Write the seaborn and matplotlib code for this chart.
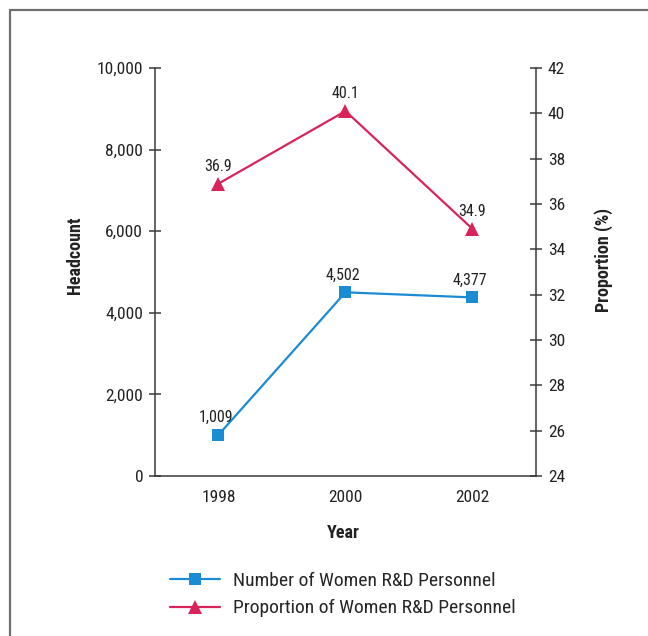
import numpy as np
import pandas as pd
import matplotlib
matplotlib.use("Agg")
import matplotlib.pyplot as plt
from matplotlib import font_manager
from matplotlib.lines import Line2D
from matplotlib.ticker import FuncFormatter, FixedLocator
import seaborn as sns

sns.set_style("white")
installed = {f.name for f in font_manager.fontManager.ttflist}
narrow = [n for n in ("Liberation Sans Narrow", "Roboto Condensed", "Open Sans Condensed",
                      "DejaVu Sans Condensed") if n in installed]
base = narrow[0] if narrow else "Liberation Sans"
plt.rcParams["font.family"] = [base, "DejaVu Sans"]

years = ["1998", "2000", "2002"]
headcount = [1009, 4502, 4377]
proportion = [36.9, 40.1, 34.9]
headcount_labels = ["1,009", "4,502", "4,377"]
proportion_labels = ["36.9", "40.1", "34.9"]

blue = "#1b8bd3"
red = "#d9245a"
axis_col = "#3a3a3a"
text_col = "#222222"

df = pd.DataFrame({"pos": np.arange(len(years)), "year": years,
                   "headcount": headcount, "proportion": proportion})

fig = plt.figure(figsize=(6.48, 6.36), dpi=100)
ax = fig.add_axes([155 / 648, 1 - 476 / 636, (536 - 155) / 648, (476 - 68) / 636])
ax2 = ax.twinx()

sns.lineplot(data=df, x="pos", y="headcount", ax=ax, color=blue, marker="s",
             markersize=8.5, markeredgewidth=0, linewidth=1.6)
sns.lineplot(data=df, x="pos", y="proportion", ax=ax2, color=red, marker="^",
             markersize=10.5, markeredgewidth=0, linewidth=1.6)

ax.set_xlim(-0.5, 2.5)
ax.set_ylim(0, 10000)
ax2.set_ylim(24, 42)
ax.set_yticks(np.arange(0, 10001, 2000))
ax2.set_yticks(np.arange(24, 43, 2))
ax.yaxis.set_major_formatter(FuncFormatter(lambda v, p: f"{int(v):,}"))

fs = 11.5 if base == "Liberation Sans" else 12.5

# category labels at the centres, tick marks at the boundaries
ax.set_xticks(df["pos"])
ax.set_xticklabels(years)
ax.xaxis.set_minor_locator(FixedLocator([-0.5, 0.5, 1.5, 2.5]))
ax.tick_params(axis="x", which="major", length=0, pad=10, labelsize=fs, labelcolor=text_col)
ax.tick_params(axis="x", which="minor", direction="inout", length=9, width=1.1, color=axis_col)
ax.tick_params(axis="y", direction="inout", length=9, width=1.1, color=axis_col,
               labelsize=fs, labelcolor=text_col, pad=4)
ax2.tick_params(axis="y", direction="inout", length=9, width=1.1, color=axis_col,
                labelsize=fs, labelcolor=text_col, pad=4)

for a in (ax, ax2):
    a.spines["top"].set_visible(False)
    for s in ("left", "right", "bottom"):
        a.spines[s].set_color(axis_col)
        a.spines[s].set_linewidth(1.1)
ax.spines["right"].set_visible(False)
ax2.spines["left"].set_visible(False)
ax2.spines["bottom"].set_visible(False)

ax.set_xlabel("Year", fontsize=fs + 0.5, fontweight="bold", color=text_col)
ax.set_ylabel("Headcount", fontsize=fs + 0.5, fontweight="bold", color=text_col)
ax2.set_ylabel("Proportion (%)", fontsize=fs + 0.5, fontweight="bold", color=text_col)
ax.xaxis.set_label_coords(0.495, -48 / 408)
ax.yaxis.set_label_coords(-71 / 381, 0.54)
ax2.yaxis.set_label_coords(1 + 58 / 381, 0.53)

for x, y, t in zip(df["pos"], headcount, headcount_labels):
    ax.annotate(t, (x, y), xytext=(-2, 12.5), textcoords="offset points",
                ha="center", va="center", fontsize=fs - 1, color=text_col)
for x, y, t in zip(df["pos"], proportion, proportion_labels):
    ax2.annotate(t, (x, y), xytext=(0, 12.5), textcoords="offset points",
                 ha="center", va="center", fontsize=fs - 1, color=text_col)

handles = [
    Line2D([], [], color=blue, marker="s", markersize=8.5, markeredgewidth=0, linewidth=1.6),
    Line2D([], [], color=red, marker="^", markersize=10.5, markeredgewidth=0, linewidth=1.6),
]
fig.legend(handles, ["Number of Women R&D Personnel", "Proportion of Women R&D Personnel"],
           loc="upper left", bbox_to_anchor=(152 / 648, 1 - 554 / 636), frameon=False,
           fontsize=fs + 1.5, handlelength=2.6, handletextpad=0.65, labelspacing=0.5)

# page frame
fig.add_artist(Line2D([10 / 648, 1.0], [1 - 10 / 636, 1 - 10 / 636],
                      transform=fig.transFigure, color="#707070", linewidth=1.6))
fig.add_artist(Line2D([10 / 648, 10 / 648], [0.0, 1 - 10 / 636],
                      transform=fig.transFigure, color="#707070", linewidth=1.6))

fig.savefig("out.png", dpi=100)
